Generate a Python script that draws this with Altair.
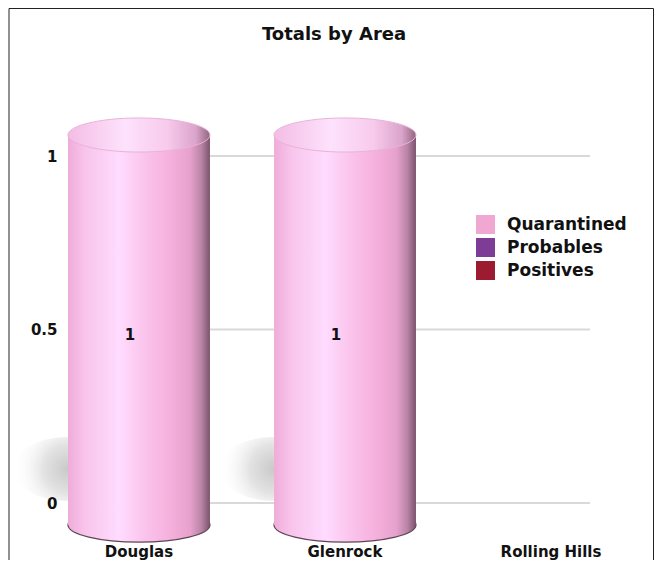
import altair as alt
import pandas as pd

# ---- data ----
TITLE = "Totals by Area"
areas = ["Douglas", "Glenrock", "Rolling Hills"]
series_names = ["Quarantined", "Probables", "Positives"]
series_colors = ["#f0a8d2", "#7d3c95", "#9c1b31"]
quarantined = [1, 1, 0]
probables = [0, 0, 0]
positives = [0, 0, 0]
y_ticks = [0, 0.5, 1]

rows = []
for name, vals in zip(series_names, [quarantined, probables, positives]):
    for a, v in zip(areas, vals):
        rows.append({"area": a, "series": name, "value": v})
df = pd.DataFrame(rows)
grid_df = pd.DataFrame({"v": y_ticks})
one = pd.DataFrame({"t": [TITLE]})

FONT = "DejaVu Sans"


def ellipse_path(k):
    c = 0.5523
    return (f"M -1 0 C -1 {-c*k:.4f} {-c:.4f} {-k:.4f} 0 {-k:.4f} "
            f"C {c:.4f} {-k:.4f} 1 {-c*k:.4f} 1 0 "
            f"C 1 {c*k:.4f} {c:.4f} {k:.4f} 0 {k:.4f} "
            f"C {-c:.4f} {k:.4f} -1 {c*k:.4f} -1 0 Z")


BAR_W = 142
body_grad = alt.LinearGradient(
    gradient="linear", x1=0, x2=1, y1=0, y2=0,
    stops=[
        alt.GradientStop(color="#f0acd8", offset=0),
        alt.GradientStop(color="#f8c4ec", offset=0.12),
        alt.GradientStop(color="#ffdcff", offset=0.36),
        alt.GradientStop(color="#fbc6ee", offset=0.52),
        alt.GradientStop(color="#f5b0dc", offset=0.72),
        alt.GradientStop(color="#e6a2cd", offset=0.86),
        alt.GradientStop(color="#b983a6", offset=0.94),
        alt.GradientStop(color="#7a536c", offset=1),
    ],
)
cap_grad = alt.LinearGradient(
    gradient="linear", x1=0, x2=1, y1=0, y2=0,
    stops=[
        alt.GradientStop(color="#f4bce4", offset=0),
        alt.GradientStop(color="#fde2fc", offset=0.4),
        alt.GradientStop(color="#f8caec", offset=0.7),
        alt.GradientStop(color="#dba4cb", offset=0.9),
        alt.GradientStop(color="#92667f", offset=1),
    ],
)
shadow_grad = alt.RadialGradient(
    gradient="radial", x1=0.5, y1=0.5, r1=0, x2=0.5, y2=0.5, r2=0.5,
    stops=[
        alt.GradientStop(color="#c9c9c9", offset=0),
        alt.GradientStop(color="#e3e3e3", offset=0.45),
        alt.GradientStop(color="rgba(255,255,255,0)", offset=1),
    ],
)

x_scale = alt.Scale(domain=areas, paddingInner=0.311, paddingOuter=0)
x_axis = alt.Axis(
    title=None, labelAngle=0, domain=False, ticks=False, grid=False,
    labelFont=FONT, labelFontSize=15, labelFontWeight="bold", labelColor="#111111",
    labelPadding=48, labelBaseline="middle", zindex=1,
)
y_scale = alt.Scale(domain=[0, 1], nice=False, zero=True)
y_axis = alt.Axis(
    title=None, values=y_ticks, format="~g", domain=False, ticks=False, grid=False,
    labelFont=FONT, labelFontSize=15, labelFontWeight="bold", labelColor="#111111",
    labelPadding=11, zindex=1,
)

X = alt.X("area:N", scale=x_scale, axis=x_axis)

bars_src = (
    alt.Chart(df)
    .transform_filter("datum.series == 'Quarantined' && datum.value > 0")
    .transform_calculate(zero="0", mid="datum.value / 2")
)

grid = alt.Chart(grid_df).mark_rule(color="#d9d9d9", strokeWidth=2).encode(
    y=alt.Y("v:Q", scale=y_scale, axis=y_axis),
    x=alt.value(0),
    x2=alt.value(522),
)

shadow = bars_src.mark_point(
    shape=ellipse_path(0.58), size=110 * 110, filled=True, fill=shadow_grad,
    opacity=1, strokeWidth=0, xOffset=-71, yOffset=-34,
).encode(x=X, y=alt.Y("zero:Q", scale=y_scale, axis=y_axis))

bottom = bars_src.mark_point(
    shape=ellipse_path(0.24), size=BAR_W * BAR_W, filled=True, fill=body_grad,
    opacity=1, stroke="#5e4455", strokeWidth=1.2, yOffset=22,
).encode(x=X, y=alt.Y("zero:Q", scale=y_scale, axis=y_axis))

body = bars_src.mark_bar(fill=body_grad, yOffset=-21, y2Offset=22, opacity=1).encode(
    x=X,
    y=alt.Y("value:Q", scale=y_scale, axis=y_axis),
    y2=alt.Y2("zero:Q"),
)

top = bars_src.mark_point(
    shape=ellipse_path(0.24), size=BAR_W * BAR_W, filled=True, fill=cap_grad,
    opacity=1, stroke="#e8b4d8", strokeWidth=1, yOffset=-21,
).encode(x=X, y=alt.Y("value:Q", scale=y_scale, axis=y_axis))

labels = bars_src.mark_text(
    font=FONT, fontSize=15, fontWeight="bold", color="#111111", dx=-9, dy=5,
).encode(
    x=X, y=alt.Y("mid:Q", scale=y_scale, axis=y_axis), text=alt.Text("value:Q", format="~g")
)

legend_layer = (
    alt.Chart(df)
    .transform_filter("datum.value < 0")
    .mark_square(opacity=1)
    .encode(
        color=alt.Color(
            "series:N",
            scale=alt.Scale(domain=series_names, range=series_colors),
            legend=alt.Legend(
                title=None, orient="none", legendX=408, legendY=59, padding=0,
                symbolType="square", symbolSize=361, symbolStrokeWidth=0,
                symbolOpacity=1, labelFont=FONT, labelFontSize=17,
                labelFontWeight="bold", labelColor="#111111", rowPadding=4,
                labelOffset=12,
            ),
        )
    )
)

title = alt.Chart(one).mark_text(
    font=FONT, fontSize=18, fontWeight="bold", color="#111111", baseline="middle",
).encode(text="t:N", x=alt.value(266), y=alt.value(-121))

border = alt.Chart(one).mark_rect(fill="transparent", stroke="#222222", strokeWidth=1).encode(
    x=alt.value(-59), x2=alt.value(585.5), y=alt.value(-147.5), y2=alt.value(430)
)

chart = (
    alt.layer(grid, shadow, bottom, body, top, labels, legend_layer, title, border)
    .properties(
        width=554, height=347,
        padding={"left": 60, "top": 148, "right": 33, "bottom": 57},
        autosize=alt.AutoSizeParams(type="none"),
        background="white",
    )
    .configure_view(stroke="transparent")
)

chart.save("out.html", embed_options={"renderer": "svg", "actions": False})
